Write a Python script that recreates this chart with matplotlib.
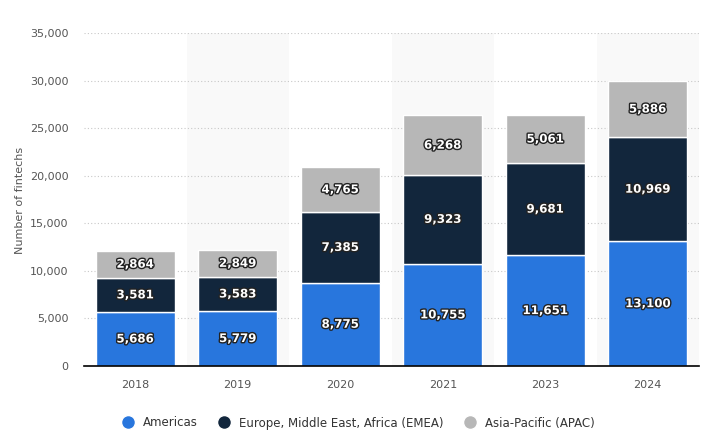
import numpy as np
import matplotlib
matplotlib.use("Agg")
from matplotlib import pyplot as plt
from matplotlib import patheffects as pe
from matplotlib.lines import Line2D
from matplotlib.ticker import FuncFormatter

# data
years = ["2018", "2019", "2020", "2021", "2023", "2024"]
americas = [5686, 5779, 8775, 10755, 11651, 13100]
emea = [3581, 3583, 7385, 9323, 9681, 10969]
apac = [2864, 2849, 4765, 6268, 5061, 5886]
series_names = ["Americas", "Europe, Middle East, Africa (EMEA)", "Asia-Pacific (APAC)"]
colors = ["#2876dd", "#12263c", "#b7b7b7"]

fig = plt.figure(figsize=(7.11, 4.41), dpi=100)
ax = fig.add_axes([84/711, 1-366/441, 615/711, 333/441])

x = np.arange(len(years))
# alternating background bands
for i in x:
    if i % 2 == 1:
        ax.axvspan(i-0.5, i+0.5, color="#f9f9f9", zorder=0, lw=0)

bottom = np.zeros(len(years))
for vals, c in zip([americas, emea, apac], colors):
    bars = ax.bar(x, vals, width=0.77, bottom=bottom, color=c,
                  edgecolor="white", linewidth=1, zorder=3)
    for xi, v, b in zip(x, vals, bottom):
        ax.text(xi, b+v/2, f"{v:,}", ha="center", va="center", color="white",
                fontsize=8.5, fontweight="bold", zorder=4,
                path_effects=[pe.withStroke(linewidth=2, foreground="#222222")])
    bottom = bottom + np.array(vals)

ax.set_xlim(-0.5, len(years)-0.5)
ax.set_ylim(0, 35000)
ax.set_yticks(np.arange(0, 35001, 5000))
ax.yaxis.set_major_formatter(FuncFormatter(lambda v, p: f"{int(v):,}"))
ax.set_xticks(x)
ax.set_xticklabels(years)
ax.grid(axis="y", color="#c8c8c8", linestyle=(0, (1, 2)), linewidth=0.8, zorder=1)
ax.set_axisbelow(True)
for s in ["top", "right", "left"]:
    ax.spines[s].set_visible(False)
ax.spines["bottom"].set_color("black")
ax.spines["bottom"].set_linewidth(1.2)
ax.spines["bottom"].set_zorder(5)
ax.tick_params(axis="both", length=0, labelsize=8, labelcolor="#555555")
ax.tick_params(axis="x", pad=10)
ax.tick_params(axis="y", pad=11)
fig.text(20/711, 1-200/441, "Number of fintechs", rotation=90, ha="center",
         va="center", fontsize=8, color="#555555")

handles = [Line2D([0], [0], marker="o", color="w", markerfacecolor=c,
                  markersize=10, label=n) for c, n in zip(colors, series_names)]
fig.legend(handles=handles, loc="center", bbox_to_anchor=(0.5, 1-423/441),
           ncol=3, frameon=False, fontsize=8.5, handletextpad=0.3,
           columnspacing=1.2, labelcolor="#333333")

fig.savefig("out.png", dpi=100)
